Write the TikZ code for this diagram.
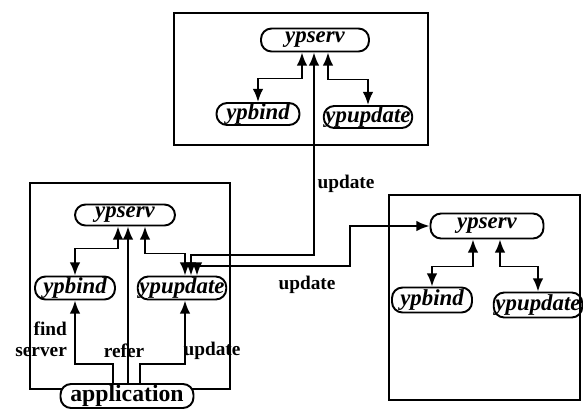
\documentclass[tikz,border=0pt]{standalone}
\usepackage{fontspec}
\setmainfont{Liberation Serif}
\usetikzlibrary{arrows.meta, calc, fit}

\begin{document}
\begin{tikzpicture}[
    x=0.02cm, y=-0.02cm,
    host/.style={draw, line width=1.1pt, inner sep=0pt},
    daemon/.style={draw, line width=1.1pt, rounded corners=6pt, inner xsep=1pt,
                   inner ysep=0pt, font=\fontsize{13}{15}\selectfont\bfseries\itshape},
    link/.style={line width=1.1pt, -{Latex[length=7.5pt, width=6pt]}},
    both/.style={line width=1.1pt, {Latex[length=7.5pt, width=6pt]}-{Latex[length=7.5pt, width=6pt]}},
    tag/.style={font=\fontsize{11}{13}\selectfont\bfseries, inner sep=1pt},
]
\useasboundingbox (0,0) rectangle (583,410);

% ===================== TOP HOST =====================
\node[host, fit={(174,13) (428,145)}] (topbox) {};
\node[daemon, minimum width=2.16cm, minimum height=0.46cm] (ysT) at (315,40) {ypserv};
\node[daemon, minimum width=1.66cm, minimum height=0.44cm] (ybT) at (258,114) {ypbind};
\node[daemon, minimum width=1.66cm, minimum height=0.44cm] (yuT) at (368,117) {ypupdate};

\draw[both] ($(ysT.south)+(-13,0)$) -- ++(0,26) -| (ybT.north);
\draw[both] ($(ysT.south)+(13,0)$) -- ++(0,27) -| (yuT.north);

% ===================== LEFT HOST =====================
\node[host, fit={(30,183) (230,389)}] (leftbox) {};
\node[daemon, minimum width=2.0cm, minimum height=0.42cm] (ysL) at (125,215) {ypserv};
\node[daemon, minimum width=1.6cm, minimum height=0.46cm] (ybL) at (75,288) {ypbind};
\node[daemon, minimum width=1.62cm, minimum height=0.46cm] (yuL) at (182,288) {ypupdate};
\node[daemon, font=\fontsize{13.5}{15}\selectfont\bfseries, minimum width=2.66cm,
      minimum height=0.48cm, fill=white] (app) at (127,396) {application};

\draw[both] ($(ysL.south)+(-7,0)$) -- ++(0,22) -| (ybL.north);
\draw[both] ($(ysL.south)+(20,0)$) -- ++(0,27) -| ($(yuL.north)+(3,0)$);

% application requests
\draw[link] ($(app.north)+(-14,0)$) -- ++(0,-19) -| (ybL.south);
\draw[link] ($(app.north)+(1,0)$) -- ($(ysL.south)+(3,0)$);
\draw[link] ($(app.north)+(13,0)$) -- ++(0,-19) -| ($(yuL.south)+(3,0)$);

\node[tag, anchor=east] (find) at (69,329) {find};
\node[tag, anchor=east] (server) at (69,352) {server};
\node[tag] (refer) at (124,351) {refer};
\node[tag] (upd) at (212,351) {update};

% ===================== RIGHT HOST =====================
\node[host, fit={(389,195) (580,400)}] (rightbox) {};
\node[daemon, minimum width=2.26cm, minimum height=0.5cm] (ysR) at (487,226) {ypserv};
\node[daemon, minimum width=1.6cm, minimum height=0.5cm] (ybR) at (432,300) {ypbind};
\node[daemon, minimum width=1.66cm, minimum height=0.5cm] (yuR) at (538,305) {ypupdate};

\draw[both] ($(ysR.south)+(-14,0)$) -- ++(0,27) -| (ybR.north);
\draw[both] ($(ysR.south)+(13,0)$) -- ++(0,27) -| (yuR.north);

% ===================== UPDATES BETWEEN HOSTS =====================
\draw[both] ($(ysT.south)+(-1,0)$) |- ($(yuL.north)+(9,-21)$) -- ($(yuL.north)+(9,0)$);
\draw[both] ($(yuL.north)+(15,0)$) -- ++(0,-10) -| ($(ysR.west)+(-80,0)$) -- (ysR.west);

\node[tag] (updT) at (346,184) {update};
\node[tag] (updR) at (307,285) {update};

\end{tikzpicture}
\end{document}
